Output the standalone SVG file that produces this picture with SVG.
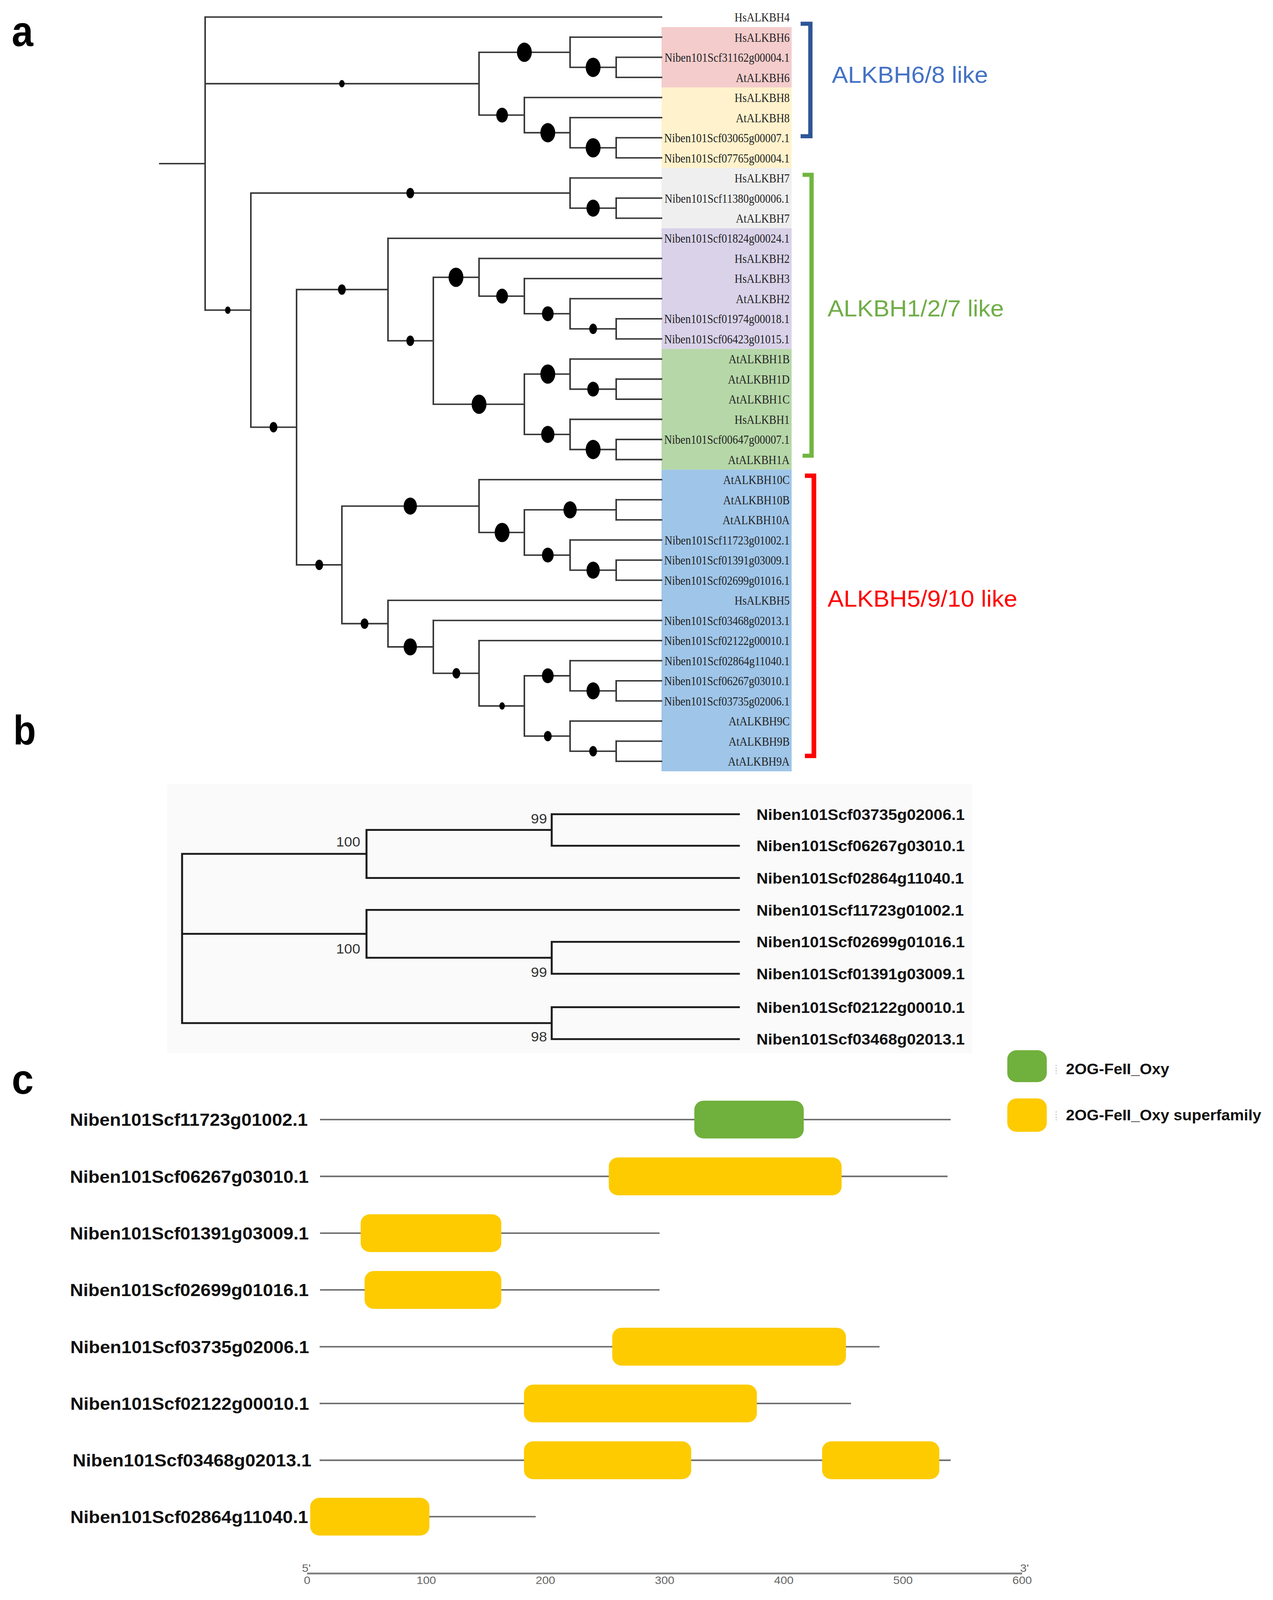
<svg xmlns="http://www.w3.org/2000/svg" width="3258" height="4302" viewBox="0 0 3258 4302">
<style>
.panel{font-family:"Liberation Sans",Arial,sans-serif;font-weight:bold;fill:#000}
.tree{fill:none;stroke:#383838;stroke-width:4;stroke-linecap:square}
.treeb{fill:none;stroke:#1a1a1a;stroke-width:5;stroke-linecap:square}
.la{font-family:"Liberation Serif","Times New Roman",serif;font-size:34px;fill:#222;text-anchor:end}
.grp{font-family:"Liberation Sans",Arial,sans-serif;font-size:62px}
.lb{font-family:"Liberation Sans",Arial,sans-serif;font-weight:bold;font-size:41px;fill:#111}
.bs{font-family:"Liberation Sans",Arial,sans-serif;font-size:37px;fill:#333;text-anchor:end}
.lc{font-family:"Liberation Sans",Arial,sans-serif;font-weight:bold;font-size:47px;fill:#111}
.leg{font-family:"Liberation Sans",Arial,sans-serif;font-weight:bold;font-size:40px;fill:#111}
.prot{stroke:#6b6b6b;stroke-width:4;fill:none}
.dy{fill:#FDCB00}
.dg{fill:#70B03C}
.ax{font-family:"Liberation Sans",Arial,sans-serif;font-size:30px;fill:#666;text-anchor:middle}
.dot{fill:#000}
</style>
<defs>
<ellipse id="dL" class="dot" cx="0" cy="0" rx="19" ry="26"/>
<ellipse id="dLm" class="dot" cx="0" cy="0" rx="17" ry="23"/>
<ellipse id="dM" class="dot" cx="0" cy="0" rx="15" ry="20"/>
<ellipse id="dS" class="dot" cx="0" cy="0" rx="10" ry="14"/>
<ellipse id="dXS" class="dot" cx="0" cy="0" rx="7" ry="10"/>
</defs>
<rect width="3258" height="4302" fill="#fff"/>
<g id="figure" transform="scale(1 0.95)">

<!-- panel letters -->
<text class="panel" x="30" y="124" font-size="115" textLength="55" lengthAdjust="spacingAndGlyphs">a</text>
<text class="panel" x="34" y="2006" font-size="112" textLength="58" lengthAdjust="spacingAndGlyphs">b</text>
<text class="panel" x="30" y="2947" font-size="113" textLength="56" lengthAdjust="spacingAndGlyphs">c</text>

<!-- ===== Panel a: clade colour bands ===== -->
<g id="bands-a">
<rect x="1693" y="73.1" width="333" height="162.6" fill="#F4CCCC"/>
<rect x="1693" y="235.7" width="333" height="216.8" fill="#FFF2CC"/>
<rect x="1693" y="452.5" width="333" height="162.6" fill="#EFEFEF"/>
<rect x="1693" y="615.1" width="333" height="325.2" fill="#D9D2E9"/>
<rect x="1693" y="940.3" width="333" height="325.2" fill="#B6D7A8"/>
<rect x="1693" y="1265.5" width="333" height="813" fill="#9FC5E8"/>
</g>

<!-- ===== Panel a: connectors ===== -->
<g id="connectors-a">
<path class="tree" d="M525 46H1693M1459 100.2H1693M1577 154.4H1693M1577 208.6H1693M1342 262.8H1693M1459 317H1693M1577 371.2H1693M1577 425.4H1693M1459 479.6H1693M1577 533.8H1693M1577 588H1693M993 642.2H1693M1226 696.4H1693M1342 750.6H1693M1459 804.8H1693M1577 859H1693M1577 913.2H1693M1459 967.4H1693M1577 1021.6H1693M1577 1075.8H1693M1459 1130H1693M1577 1184.2H1693M1577 1238.4H1693M1226 1292.6H1693M1577 1346.8H1693M1577 1401H1693M1459 1455.2H1693M1577 1509.4H1693M1577 1563.6H1693M993 1617.8H1693M1109 1672H1693M1226 1726.2H1693M1459 1780.4H1693M1577 1834.6H1693M1577 1888.8H1693M1459 1943H1693M1577 1997.2H1693M1577 2051.4H1693"/>
<path class="tree" d="M409 440.9H525M525 46V835.7M525 225.5H1226M1226 140.85V310.2M1226 140.85H1459M1459 100.2V181.5M1459 181.5H1577M1577 154.4V208.6M1226 310.2H1342M1342 262.8V357.65M1342 357.65H1459M1459 317V398.3M1459 398.3H1577M1577 371.2V425.4"/>
<path class="tree" d="M525 835.7H642M642 520.25V1151.2M642 520.25H1459M1459 479.6V560.9M1459 560.9H1577M1577 533.8V588M642 1151.2H759M759 780.25V1522.1M759 780.25H993M993 642.2V918.3M993 918.3H1109M1109 747.2V1089.35M1109 747.2H1226M1226 696.4V798M1226 798H1342M1342 750.6V845.45M1342 845.45H1459M1459 804.8V886.1M1459 886.1H1577M1577 859V913.2M1109 1089.35H1342M1342 1008.05V1170.65M1342 1008.05H1459M1459 967.4V1048.7M1459 1048.7H1577M1577 1021.6V1075.8M1342 1170.65H1459M1459 1130V1211.3M1459 1211.3H1577M1577 1184.2V1238.4"/>
<path class="tree" d="M759 1522.1H875M875 1363.75V1680.5M875 1363.75H1226M1226 1292.6V1434.9M1226 1434.9H1342M1342 1373.9V1495.85M1342 1373.9H1577M1577 1346.8V1401M1342 1495.85H1459M1459 1455.2V1536.5M1459 1536.5H1577M1577 1509.4V1563.6M875 1680.5H993M993 1617.8V1743.15M993 1743.15H1109M1109 1672V1814.3M1109 1814.3H1226M1226 1726.2V1902.35M1226 1902.35H1342M1342 1821.05V1983.65M1342 1821.05H1459M1459 1780.4V1861.7M1459 1861.7H1577M1577 1834.6V1888.8M1342 1983.65H1459M1459 1943V2024.3M1459 2024.3H1577M1577 1997.2V2051.4"/>
</g>

<!-- ===== Panel a: support dots ===== -->
<g id="support-dots">
<use href="#dXS" x="875" y="225.5"/>
<use href="#dL" x="1342" y="140.85"/>
<use href="#dL" x="1518" y="181.5"/>
<use href="#dM" x="1285" y="310.2"/>
<use href="#dL" x="1402" y="357.65"/>
<use href="#dL" x="1518" y="398.3"/>
<use href="#dS" x="1050" y="520.25"/>
<use href="#dLm" x="1518" y="560.9"/>
<use href="#dXS" x="583" y="835.7"/>
<use href="#dS" x="700" y="1151.2"/>
<use href="#dS" x="875" y="780.25"/>
<use href="#dS" x="1050" y="918.3"/>
<use href="#dL" x="1167" y="747.2"/>
<use href="#dM" x="1285" y="798"/>
<use href="#dM" x="1402" y="845.45"/>
<use href="#dS" x="1518" y="886.1"/>
<use href="#dL" x="1226" y="1089.35"/>
<use href="#dL" x="1402" y="1008.05"/>
<use href="#dM" x="1518" y="1048.7"/>
<use href="#dLm" x="1402" y="1170.65"/>
<use href="#dL" x="1518" y="1211.3"/>
<use href="#dS" x="817" y="1522.1"/>
<use href="#dLm" x="1050" y="1363.75"/>
<use href="#dL" x="1285" y="1434.9"/>
<use href="#dLm" x="1459" y="1373.9"/>
<use href="#dM" x="1402" y="1495.85"/>
<use href="#dLm" x="1518" y="1536.5"/>
<use href="#dS" x="933" y="1680.5"/>
<use href="#dLm" x="1050" y="1743.15"/>
<use href="#dS" x="1168" y="1814.3"/>
<use href="#dXS" x="1285" y="1902.35"/>
<use href="#dM" x="1402" y="1821.05"/>
<use href="#dLm" x="1518" y="1861.7"/>
<use href="#dS" x="1402" y="1983.65"/>
<use href="#dS" x="1518" y="2024.3"/>
</g>

<!-- ===== Panel a: leaf labels ===== -->
<g id="leaves-a" transform="translate(2021 0) scale(0.82 1)">
<g id="a-HsALKBH4"><text class="la" x="0" y="58">HsALKBH4</text></g>
<g id="a-HsALKBH6"><text class="la" x="0" y="112.2">HsALKBH6</text></g>
<g id="a-Nb31162"><text class="la" x="0" y="166.4">Niben101Scf31162g00004.1</text></g>
<g id="a-AtALKBH6"><text class="la" x="0" y="220.6">AtALKBH6</text></g>
<g id="a-HsALKBH8"><text class="la" x="0" y="274.8">HsALKBH8</text></g>
<g id="a-AtALKBH8"><text class="la" x="0" y="329">AtALKBH8</text></g>
<g id="a-Nb03065"><text class="la" x="0" y="383.2">Niben101Scf03065g00007.1</text></g>
<g id="a-Nb07765"><text class="la" x="0" y="437.4">Niben101Scf07765g00004.1</text></g>
<g id="a-HsALKBH7"><text class="la" x="0" y="491.6">HsALKBH7</text></g>
<g id="a-Nb11380"><text class="la" x="0" y="545.8">Niben101Scf11380g00006.1</text></g>
<g id="a-AtALKBH7"><text class="la" x="0" y="600">AtALKBH7</text></g>
<g id="a-Nb01824"><text class="la" x="0" y="654.2">Niben101Scf01824g00024.1</text></g>
<g id="a-HsALKBH2"><text class="la" x="0" y="708.4">HsALKBH2</text></g>
<g id="a-HsALKBH3"><text class="la" x="0" y="762.6">HsALKBH3</text></g>
<g id="a-AtALKBH2"><text class="la" x="0" y="816.8">AtALKBH2</text></g>
<g id="a-Nb01974"><text class="la" x="0" y="871">Niben101Scf01974g00018.1</text></g>
<g id="a-Nb06423"><text class="la" x="0" y="925.2">Niben101Scf06423g01015.1</text></g>
<g id="a-AtALKBH1B"><text class="la" x="0" y="979.4">AtALKBH1B</text></g>
<g id="a-AtALKBH1D"><text class="la" x="0" y="1033.6">AtALKBH1D</text></g>
<g id="a-AtALKBH1C"><text class="la" x="0" y="1087.8">AtALKBH1C</text></g>
<g id="a-HsALKBH1"><text class="la" x="0" y="1142">HsALKBH1</text></g>
<g id="a-Nb00647"><text class="la" x="0" y="1196.2">Niben101Scf00647g00007.1</text></g>
<g id="a-AtALKBH1A"><text class="la" x="0" y="1250.4">AtALKBH1A</text></g>
<g id="a-AtALKBH10C"><text class="la" x="0" y="1304.6">AtALKBH10C</text></g>
<g id="a-AtALKBH10B"><text class="la" x="0" y="1358.8">AtALKBH10B</text></g>
<g id="a-AtALKBH10A"><text class="la" x="0" y="1413">AtALKBH10A</text></g>
<g id="a-Nb11723"><text class="la" x="0" y="1467.2">Niben101Scf11723g01002.1</text></g>
<g id="a-Nb01391"><text class="la" x="0" y="1521.4">Niben101Scf01391g03009.1</text></g>
<g id="a-Nb02699"><text class="la" x="0" y="1575.6">Niben101Scf02699g01016.1</text></g>
<g id="a-HsALKBH5"><text class="la" x="0" y="1629.8">HsALKBH5</text></g>
<g id="a-Nb03468"><text class="la" x="0" y="1684">Niben101Scf03468g02013.1</text></g>
<g id="a-Nb02122"><text class="la" x="0" y="1738.2">Niben101Scf02122g00010.1</text></g>
<g id="a-Nb02864"><text class="la" x="0" y="1792.4">Niben101Scf02864g11040.1</text></g>
<g id="a-Nb06267"><text class="la" x="0" y="1846.6">Niben101Scf06267g03010.1</text></g>
<g id="a-Nb03735"><text class="la" x="0" y="1900.8">Niben101Scf03735g02006.1</text></g>
<g id="a-AtALKBH9C"><text class="la" x="0" y="1955">AtALKBH9C</text></g>
<g id="a-AtALKBH9B"><text class="la" x="0" y="2009.2">AtALKBH9B</text></g>
<g id="a-AtALKBH9A"><text class="la" x="0" y="2063.4">AtALKBH9A</text></g>
</g>

<!-- ===== Panel a: clade brackets ===== -->
<g id="clade-68">
<path d="M2049 64H2074V367H2049" fill="none" stroke="#2F5597" stroke-width="11"/>
<text class="grp" x="2129" y="223" fill="#4472C4">ALKBH6/8 like</text>
</g>
<g id="clade-127">
<path d="M2054 471H2077V1228H2054" fill="none" stroke="#70B63F" stroke-width="11"/>
<text class="grp" x="2118" y="853" fill="#70AD47">ALKBH1/2/7 like</text>
</g>
<g id="clade-5910">
<path d="M2060 1282H2083V2037H2060" fill="none" stroke="#FF0000" stroke-width="12"/>
<text class="grp" x="2118" y="1635" fill="#FF0000">ALKBH5/9/10 like</text>
</g>

<!-- ===== Panel b ===== -->
<rect x="428" y="2113" width="2060" height="725" fill="#FAFAFA"/>
<g id="connectors-b">
<path class="treeb" d="M1412 2194H1891M1412 2279H1891M938 2366H1891M938 2452H1891M1412 2538H1891M1412 2624H1891M1412 2714H1891M1412 2800H1891M1412 2194V2279M938 2236.5H1412M938 2236.5V2366M466 2301H938M466 2301V2757M466 2516.5H938M938 2452V2581M938 2581H1412M1412 2538V2624M466 2757H1412M1412 2714V2800"/>
</g>
<g id="bootstrap-b">
<text class="bs" x="1400" y="2219">99</text>
<text class="bs" x="922" y="2281">100</text>
<text class="bs" x="922" y="2569">100</text>
<text class="bs" x="1400" y="2633">99</text>
<text class="bs" x="1400" y="2806">98</text>
</g>
<g id="leaves-b">
<g id="b-Nb03735"><text class="lb" x="1936" y="2209">Niben101Scf03735g02006.1</text></g>
<g id="b-Nb06267"><text class="lb" x="1936" y="2294">Niben101Scf06267g03010.1</text></g>
<g id="b-Nb02864"><text class="lb" x="1936" y="2381">Niben101Scf02864g11040.1</text></g>
<g id="b-Nb11723"><text class="lb" x="1936" y="2467">Niben101Scf11723g01002.1</text></g>
<g id="b-Nb02699"><text class="lb" x="1936" y="2553">Niben101Scf02699g01016.1</text></g>
<g id="b-Nb01391"><text class="lb" x="1936" y="2639">Niben101Scf01391g03009.1</text></g>
<g id="b-Nb02122"><text class="lb" x="1936" y="2729">Niben101Scf02122g00010.1</text></g>
<g id="b-Nb03468"><text class="lb" x="1936" y="2815">Niben101Scf03468g02013.1</text></g>
</g>

<!-- ===== Panel c: legend ===== -->
<g id="legend-green">
<rect class="dg" x="2578" y="2830" width="101" height="86" rx="24" ry="24"/>
<line x1="2703" y1="2870" x2="2703" y2="2894" stroke="#aaa" stroke-width="2" stroke-dasharray="3 4"/>
<text class="leg" x="2728" y="2895">2OG-FeII_Oxy</text>
</g>
<g id="legend-yellow">
<rect class="dy" x="2578" y="2960" width="101" height="90" rx="24" ry="24"/>
<line x1="2703" y1="2995" x2="2703" y2="3019" stroke="#aaa" stroke-width="2" stroke-dasharray="3 4"/>
<text class="leg" x="2728" y="3019">2OG-FeII_Oxy superfamily</text>
</g>

<!-- ===== Panel c: proteins ===== -->
<g id="prot-11723">
<text class="lc" x="179" y="3034">Niben101Scf11723g01002.1</text>
<line class="prot" x1="819" y1="3017" x2="2433" y2="3017"/>
<rect class="dg" x="1777" y="2966" width="280" height="102" rx="24" ry="24"/>
</g>
<g id="prot-06267">
<text class="lc" x="179" y="3187">Niben101Scf06267g03010.1</text>
<line class="prot" x1="819" y1="3170" x2="2425" y2="3170"/>
<rect class="dy" x="1558" y="3119" width="596" height="102" rx="24" ry="24"/>
</g>
<g id="prot-01391">
<text class="lc" x="179" y="3340">Niben101Scf01391g03009.1</text>
<line class="prot" x1="819" y1="3323" x2="1688" y2="3323"/>
<rect class="dy" x="923" y="3272" width="360" height="102" rx="24" ry="24"/>
</g>
<g id="prot-02699">
<text class="lc" x="179" y="3493">Niben101Scf02699g01016.1</text>
<line class="prot" x1="819" y1="3476" x2="1688" y2="3476"/>
<rect class="dy" x="933" y="3425" width="350" height="102" rx="24" ry="24"/>
</g>
<g id="prot-03735">
<text class="lc" x="180" y="3646">Niben101Scf03735g02006.1</text>
<line class="prot" x1="818" y1="3629" x2="2251" y2="3629"/>
<rect class="dy" x="1567" y="3578" width="598" height="102" rx="24" ry="24"/>
</g>
<g id="prot-02122">
<text class="lc" x="180" y="3799">Niben101Scf02122g00010.1</text>
<line class="prot" x1="818" y1="3782" x2="2178" y2="3782"/>
<rect class="dy" x="1341" y="3731" width="596" height="102" rx="24" ry="24"/>
</g>
<g id="prot-03468">
<text class="lc" x="186" y="3952">Niben101Scf03468g02013.1</text>
<line class="prot" x1="818" y1="3935" x2="2433" y2="3935"/>
<rect class="dy" x="1341" y="3884" width="428" height="102" rx="24" ry="24"/>
<rect class="dy" x="2104" y="3884" width="300" height="102" rx="24" ry="24"/>
</g>
<g id="prot-02864">
<text class="lc" x="180" y="4104">Niben101Scf02864g11040.1</text>
<line class="prot" x1="818" y1="4087" x2="1371" y2="4087"/>
<rect class="dy" x="794" y="4036" width="305" height="102" rx="24" ry="24"/>
</g>

<!-- ===== Panel c: axis ===== -->
<g id="axis-c">
<line x1="786" y1="4240" x2="2616" y2="4240" stroke="#808080" stroke-width="5"/>
<text class="ax" x="784" y="4236" font-size="24">5'</text>
<text class="ax" x="2622" y="4236" font-size="24">3'</text>
<text class="ax" x="786" y="4268">0</text>
<text class="ax" x="1091" y="4268">100</text>
<text class="ax" x="1396" y="4268">200</text>
<text class="ax" x="1701" y="4268">300</text>
<text class="ax" x="2006" y="4268">400</text>
<text class="ax" x="2311" y="4268">500</text>
<text class="ax" x="2616" y="4268">600</text>
</g>
</g>
</svg>
